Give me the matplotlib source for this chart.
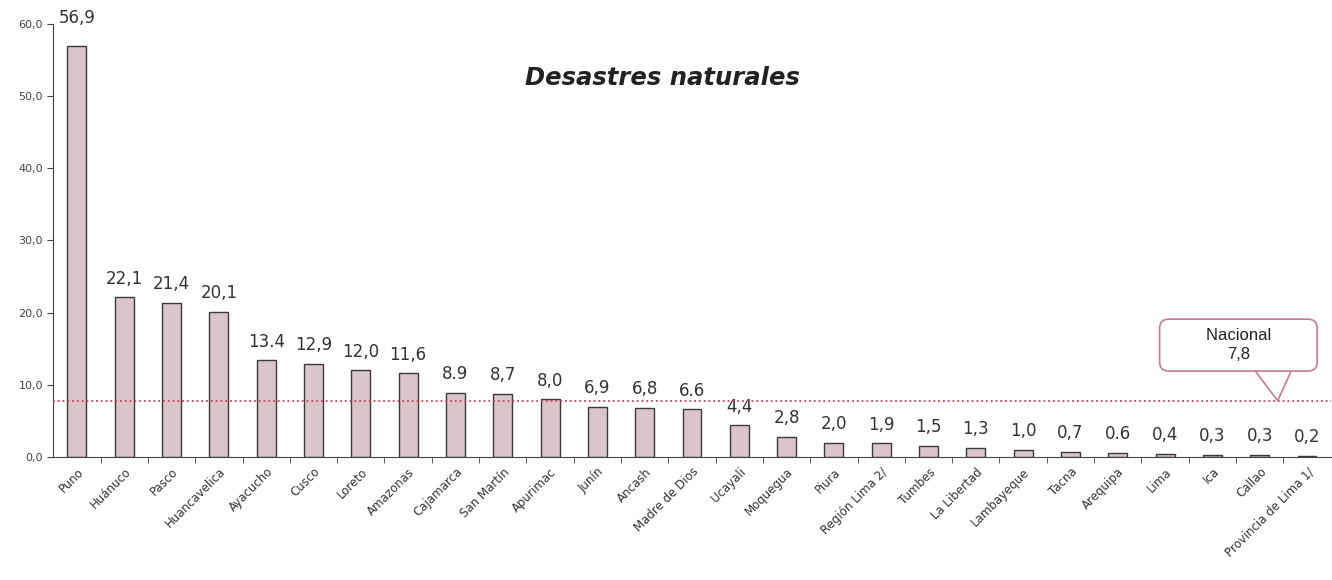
import matplotlib.pyplot as plt
from matplotlib.patches import Polygon

# -----------------------
# Data
# -----------------------
regions = ["Puno", "Huánuco", "Pasco", "Huancavelica", "Ayacucho", "Cusco",
           "Loreto", "Amazonas", "Cajamarca", "San Martín", "Apurimac", "Junín",
           "Ancash", "Madre de Dios", "Ucayali", "Moquegua", "Piura",
           "Región Lima 2/", "Tumbes", "La Libertad", "Lambayeque", "Tacna",
           "Arequipa", "Lima", "Ica", "Callao", "Provincia de Lima 1/"]
values = [56.9, 22.1, 21.4, 20.1, 13.4, 12.9, 12.0, 11.6, 8.9, 8.7, 8.0, 6.9,
          6.8, 6.6, 4.4, 2.8, 2.0, 1.9, 1.5, 1.3, 1.0, 0.7, 0.6, 0.4, 0.3,
          0.3, 0.2]
value_labels = ["56,9", "22,1", "21,4", "20,1", "13.4", "12,9", "12,0", "11,6",
                "8.9", "8,7", "8,0", "6,9", "6,8", "6.6", "4,4", "2,8", "2,0",
                "1,9", "1,5", "1,3", "1,0", "0,7", "0.6", "0,4", "0,3", "0,3",
                "0,2"]
nacional = 7.8
yticks = [0, 10, 20, 30, 40, 50, 60]
ytick_labels = ["0,0", "10,0", "20,0", "30,0", "40,0", "50,0", "60,0"]

fig = plt.figure(figsize=(13.32, 5.80), dpi=100)
ax = fig.add_axes([0.04, 0.212, 0.959, 0.747])

x = list(range(len(regions)))
bars = ax.bar(x, values, width=0.4, color="#dac5ca", edgecolor="#3a3a3a",
              linewidth=1.0, zorder=2)

for i, (bar, lab) in enumerate(zip(bars, value_labels)):
    off = 14 if i == 0 else 7
    ax.annotate(lab, (bar.get_x() + bar.get_width() / 2, bar.get_height()),
                xytext=(0, off), textcoords="offset points",
                ha="center", va="bottom", fontsize=12, color="#333333")

# national average line
ax.axhline(nacional, color="#d04055", linestyle=":", linewidth=1.3, zorder=3)

# callout box for the national value
callout_color = "#c97a8c"
tail = Polygon([(24.85, 12.4), (25.7, 12.4), (25.38, nacional)], closed=True,
               fc="white", ec=callout_color, lw=1.2, zorder=4)
ax.add_patch(tail)
ax.text(24.55, 15.5, "        Nacional        \n7,8",
        ha="center", va="center", fontsize=12, family="Liberation Sans",
        color="#222222", linespacing=1.3, zorder=5,
        bbox=dict(boxstyle="round,pad=0.55", fc="white", ec=callout_color, lw=1.2))

ax.text(0.477, 0.875, "Desastres naturales", transform=ax.transAxes,
        fontsize=17.5, fontweight="bold", fontstyle="italic",
        ha="center", va="center", color="#222222")

ax.set_xlim(-0.5, len(regions) - 0.5)
ax.set_ylim(0, 60)
ax.set_yticks(yticks)
ax.set_yticklabels(ytick_labels, fontsize=8, color="#444444")
ax.set_xticks(x)
ax.set_xticklabels(regions, rotation=45, ha="right", rotation_mode="anchor",
                   fontsize=8.5, color="#333333")
ax.tick_params(axis="x", length=0, pad=6)
ax.set_xticks([i + 0.5 for i in x[:-1]], minor=True)
ax.tick_params(axis="x", which="minor", length=4, color="#444444")
ax.tick_params(axis="y", length=4, color="#444444")

for side in ["top", "right"]:
    ax.spines[side].set_visible(False)
ax.spines["left"].set_color("#444444")
ax.spines["bottom"].set_color("#444444")

plt.savefig("out.png", dpi=100)
